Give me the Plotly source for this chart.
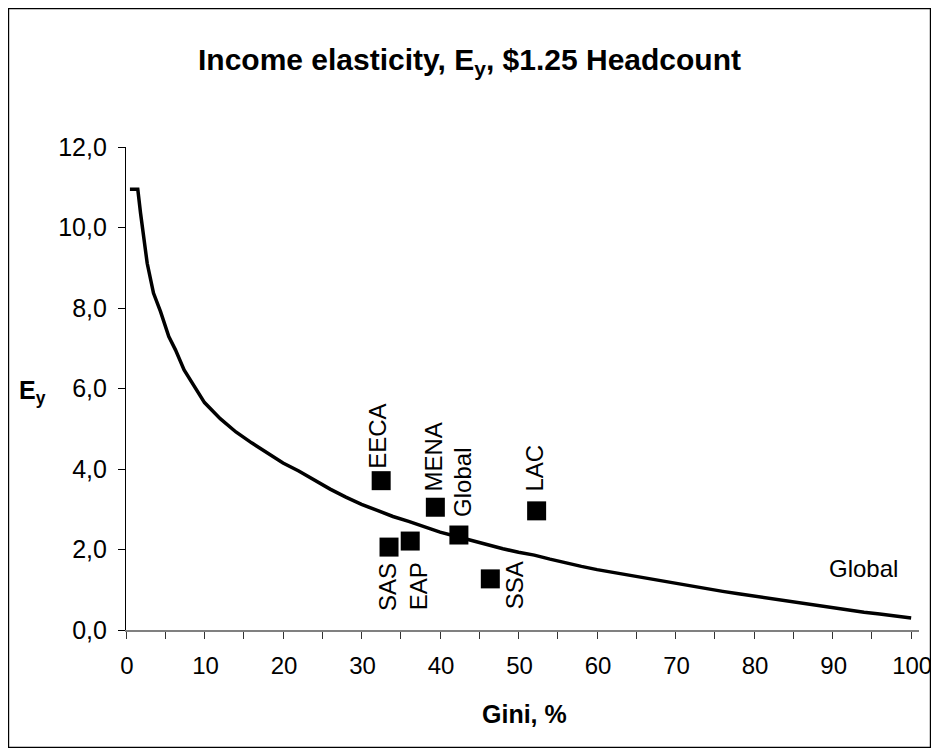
import plotly.graph_objects as go

# ---- data ----
curve_gini = [0.5, 1.5, 1.85, 2.2, 2.5, 2.7, 3.5, 4.4, 5.45, 6.3, 7.4, 8.2, 10, 12, 14, 16, 18, 20,
              22, 24, 26, 28, 30, 32, 34, 36, 38, 40, 42, 44, 46, 48, 50, 52, 54, 56, 58, 60,
              62, 64, 66, 68, 70, 72, 74, 76, 78, 80, 82, 84, 86, 88, 90, 92, 94, 96, 98, 100]
curve_ey = [10.95, 10.95, 10.36, 9.77, 9.37, 9.11, 8.37, 7.91, 7.29, 6.96, 6.46, 6.21, 5.65, 5.25,
            4.92, 4.65, 4.40, 4.15, 3.95, 3.72, 3.50, 3.30, 3.12, 2.97, 2.82, 2.70, 2.56, 2.43,
            2.33, 2.22, 2.12, 2.02, 1.93, 1.86, 1.76, 1.66, 1.58, 1.50, 1.43, 1.36, 1.30, 1.23,
            1.16, 1.10, 1.03, 0.96, 0.90, 0.84, 0.78, 0.72, 0.66, 0.60, 0.54, 0.48, 0.44, 0.40,
            0.35, 0.30]

regions = ["EECA", "MENA", "Global", "LAC", "SAS", "EAP", "SSA"]
region_gini = [32.5, 39.4, 42.4, 52.3, 33.5, 36.2, 46.4]
region_ey = [3.71, 3.05, 2.36, 2.96, 2.06, 2.21, 1.27]

x_ticks = [0, 10, 20, 30, 40, 50, 60, 70, 80, 90, 100]
x_minor_ticks = [5, 15, 25, 35, 45, 55, 65, 75, 85, 95]
y_ticks = [0, 2, 4, 6, 8, 10, 12]

# label offsets in pixels (style)
label_shift = {
    "EECA": (-4, 44), "MENA": (-2, 50), "Global": (3, 53), "LAC": (-2, 43),
    "SAS": (-2, -40), "EAP": (8, -45), "SSA": (25, -6),
}

FONT = "Liberation Sans, Arial, sans-serif"
W, H = 923, 740
L, R, T, B = 118, 12, 139, 118
PW, PH = W - L - R, H - T - B

fig = go.Figure()
fig.add_trace(go.Scatter(x=curve_gini, y=curve_ey, mode="lines",
                         line=dict(color="black", width=3.5), hoverinfo="skip",
                         showlegend=False))
fig.add_trace(go.Scatter(x=region_gini, y=region_ey, mode="markers",
                         marker=dict(symbol="square", size=19, color="black"),
                         showlegend=False))

annotations = []
for name, gx, gy in zip(regions, region_gini, region_ey):
    dx, dy = label_shift[name]
    annotations.append(dict(x=gx, y=gy, xref="x", yref="y", text=name, showarrow=False,
                            textangle=-90, xanchor="center", yanchor="middle",
                            xshift=dx, yshift=dy,
                            font=dict(family=FONT, size=24, color="black")))
# series label
annotations.append(dict(x=93.9, y=1.52, xref="x", yref="y", text="Global", showarrow=False,
                        xanchor="center", yanchor="middle",
                        font=dict(family=FONT, size=24, color="black")))
# axis titles
annotations.append(dict(x=0.503, y=-0.174, xref="paper", yref="paper", text="<b>Gini, %</b>",
                        showarrow=False, xanchor="center", yanchor="middle",
                        font=dict(family=FONT, size=25, color="black")))
annotations.append(dict(x=-0.118, y=0.493, xref="paper", yref="paper", text="<b>E<sub>y</sub></b>",
                        showarrow=False, xanchor="center", yanchor="middle",
                        font=dict(family=FONT, size=25, color="black")))

shapes = [dict(type="rect", xref="paper", yref="paper",
               x0=(0.6 - L) / PW, x1=(W - 0.6 - L) / PW,
               y0=(PH + T - (H - 0.6)) / PH, y1=(PH + T - 0.6) / PH,
               line=dict(color="black", width=1.2), fillcolor="rgba(0,0,0,0)", layer="below")]

fig.update_layout(
    width=W, height=H,
    margin=dict(l=L, r=R, t=T, b=B, autoexpand=False),
    paper_bgcolor="white", plot_bgcolor="white",
    separators=", ",
    title=dict(text="<b>Income elasticity, E<sub>y</sub>, $1.25 Headcount</b>",
               x=0.5, xref="container", xanchor="center",
               y=1 - 51 / H, yref="container", yanchor="middle",
               font=dict(family=FONT, size=30, color="black")),
    font=dict(family=FONT, size=25, color="black"),
    annotations=annotations,
    shapes=shapes,
)
fig.update_xaxes(range=[0, 101], tickvals=x_ticks, ticks="outside", ticklen=7,
                 tickcolor="#333", tickwidth=1.2, showline=True, linecolor="#808080",
                 linewidth=1.5, showgrid=False, zeroline=False, ticklabelstandoff=6,
                 ticklabelshift=1, ticklabeloverflow="allow", automargin=False,
                 minor=dict(tickvals=x_minor_ticks, ticks="outside",
                            ticklen=7, tickcolor="#333", tickwidth=1.2, showgrid=False),
                 tickfont=dict(family=FONT, size=24, color="black"))
fig.update_yaxes(range=[0, 12], tickvals=y_ticks, tickformat=".1f", ticks="outside", ticklen=7,
                 tickcolor="black", tickwidth=1.2, showline=True, linecolor="black",
                 linewidth=1.2, showgrid=False, zeroline=False, ticklabelstandoff=6,
                 automargin=False,
                 tickfont=dict(family=FONT, size=25, color="black"))

fig.write_html("out.html")
